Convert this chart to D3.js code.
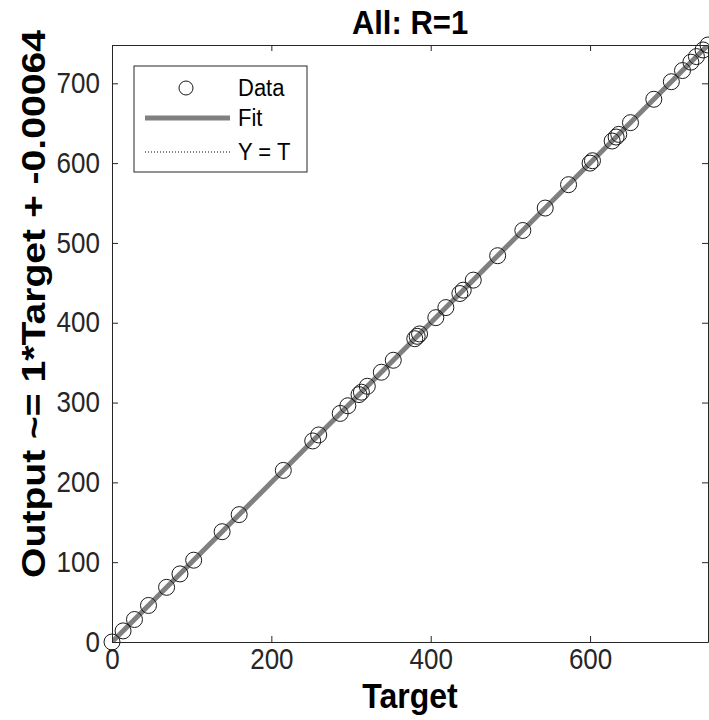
<!DOCTYPE html>
<html>
<head>
<meta charset="utf-8">
<script src="https://cdn.jsdelivr.net/npm/d3@7"></script>
<style>
  html, body { margin: 0; padding: 0; background: #fff; }
  svg { display: block; }
  text { font-family: "Liberation Sans", Arial, Helvetica, sans-serif; }
</style>
</head>
<body>
<svg id="chart" width="709" height="720"></svg>
<script>
// ---- data ----
const targets = [0, 13.9, 28.2, 45.8, 68.5, 85.3, 102.5, 138.2, 159.6, 215, 251.9, 259.4,
  286.4, 296, 310, 313, 320.4, 338, 353, 380, 383, 386, 406.4, 419, 436.6, 440.8, 453.4,
  484, 515.6, 543.7, 573, 600, 603, 627.7, 632.7, 636, 650.7, 680, 702, 716, 726.5,
  733.5, 741.8, 748];
const outputs = [0, 13.9, 28.2, 45.8, 68.5, 85.3, 102.5, 138.2, 159.6, 215, 251.9, 259.4,
  286.4, 296, 310, 313, 320.4, 338, 353, 380, 383, 386, 406.4, 419, 436.6, 440.8, 453.4,
  484, 515.6, 543.7, 573, 600, 603, 627.7, 632.7, 636, 650.7, 680, 702, 716, 726.5,
  733.5, 741.8, 748];
const fitSlope = 1;
const fitIntercept = -0.00064;
const tickValues = [0, 100, 200, 300, 400, 500, 600, 700];
const xTickValues = [0, 200, 400, 600];
const legendLabels = ["Data", "Fit", "Y = T"];
const titleText = "All: R=1";
const xLabelText = "Target";
const yLabelText = "Output ~= 1*Target + -0.00064";

// ---- layout ----
const svg = d3.select("#chart");
const margin = {left: 112, top: 45, right: 1, bottom: 78};
const W = 709, H = 720;
const pw = W - margin.left - margin.right;
const ph = H - margin.top - margin.bottom;
const axisColor = "#262626";
const stretch = 1.1; // glyphs in the reference are slightly taller than wide

const lo = Math.min(d3.min(targets), d3.min(outputs));
const hi = Math.max(d3.max(targets), d3.max(outputs));
const x = d3.scaleLinear().domain([lo, hi]).range([0, pw]);
const y = d3.scaleLinear().domain([lo, hi]).range([ph, 0]);

const g = svg.append("g").attr("transform", `translate(${margin.left},${margin.top})`);

svg.append("defs").append("clipPath").attr("id", "clip")
  .append("rect").attr("x", 0).attr("y", 0).attr("width", pw).attr("height", ph);

const plot = g.append("g");

// Y = T dotted line
plot.append("line")
  .attr("x1", x(lo)).attr("y1", y(lo)).attr("x2", x(hi)).attr("y2", y(hi))
  .attr("stroke", "#000").attr("stroke-width", 1).attr("stroke-dasharray", "1,2");

// Fit line
plot.append("line")
  .attr("clip-path", "url(#clip)")
  .attr("x1", x(lo)).attr("y1", y(fitSlope * lo + fitIntercept))
  .attr("x2", x(hi)).attr("y2", y(fitSlope * hi + fitIntercept))
  .attr("stroke", "#808080").attr("stroke-width", 5);

// Data circles
plot.selectAll("circle.d").data(targets.map((t, i) => [t, outputs[i]]))
  .join("circle").attr("class", "d")
  .attr("cx", d => x(d[0])).attr("cy", d => y(d[1])).attr("r", 8)
  .attr("fill", "none").attr("stroke", "#1a1a1a").attr("stroke-width", 1);

// axes (MATLAB style, ticks inward, box)
const tickLen = 6;
const fontTick = "26px";

const xAxisB = g.append("g").attr("transform", `translate(0,${ph})`)
  .call(d3.axisBottom(x).tickValues(xTickValues).tickSizeInner(-tickLen).tickSizeOuter(0).tickPadding(6));
const xAxisT = g.append("g")
  .call(d3.axisTop(x).tickValues(xTickValues).tickSizeInner(-tickLen).tickSizeOuter(0).tickFormat(""));
const yAxisL = g.append("g")
  .call(d3.axisLeft(y).tickValues(tickValues).tickSizeInner(-tickLen).tickSizeOuter(0).tickPadding(12));
const yAxisR = g.append("g").attr("transform", `translate(${pw},0)`)
  .call(d3.axisRight(y).tickValues(tickValues).tickSizeInner(-tickLen).tickSizeOuter(0).tickFormat(""));
[xAxisB, xAxisT, yAxisL, yAxisR].forEach(a => {
  a.select(".domain").attr("stroke", axisColor);
  a.selectAll("line").attr("stroke", axisColor);
  a.selectAll("text").attr("fill", axisColor).style("font-size", fontTick)
    .style("font-family", "Liberation Sans, Arial, sans-serif")
    .attr("transform", `scale(1,${stretch})`);
});
xAxisB.selectAll("text").attr("dy", "0.71em");

// helper for vertically stretched text
function sText(px, py, str, size, bold, anchor) {
  return svg.append("text").attr("transform", `translate(${px},${py}) scale(1,${stretch})`)
    .attr("text-anchor", anchor || "middle").attr("font-weight", bold ? "bold" : "normal")
    .attr("font-size", size).attr("fill", "#000").text(str);
}

// title
sText(margin.left + pw / 2, 34, titleText, 31, true);
// x label
sText(margin.left + pw / 2, 708, xLabelText, 32, true);

// y label (rotated; stretched along its length)
svg.append("text").attr("transform", `translate(45,304) rotate(-90) scale(1.15,1)`)
  .attr("text-anchor", "middle").attr("font-weight", "bold").attr("font-size", 34)
  .attr("fill", "#000").text(yLabelText);

// legend
const lg = svg.append("g").attr("transform", "translate(134,66)");
lg.append("rect").attr("x", 0).attr("y", 0).attr("width", 173).attr("height", 106)
  .attr("fill", "#fff").attr("stroke", axisColor).attr("stroke-width", 1);
const rowY = [22, 52, 86];
lg.append("circle").attr("cx", 52).attr("cy", rowY[0]).attr("r", 7)
  .attr("fill", "none").attr("stroke", "#1a1a1a").attr("stroke-width", 1);
lg.append("line").attr("x1", 11).attr("x2", 96).attr("y1", rowY[1]).attr("y2", rowY[1])
  .attr("stroke", "#808080").attr("stroke-width", 5);
lg.append("line").attr("x1", 11).attr("x2", 96).attr("y1", rowY[2]).attr("y2", rowY[2])
  .attr("stroke", "#000").attr("stroke-width", 1).attr("stroke-dasharray", "1,2");
lg.selectAll("text.l").data(legendLabels).join("text").attr("class", "l")
  .attr("transform", (d, i) => `translate(104,${rowY[i]}) scale(1,${stretch})`)
  .attr("dy", "0.35em")
  .attr("font-size", 22).attr("fill", "#000").text(d => d);
</script>
</body>
</html>
